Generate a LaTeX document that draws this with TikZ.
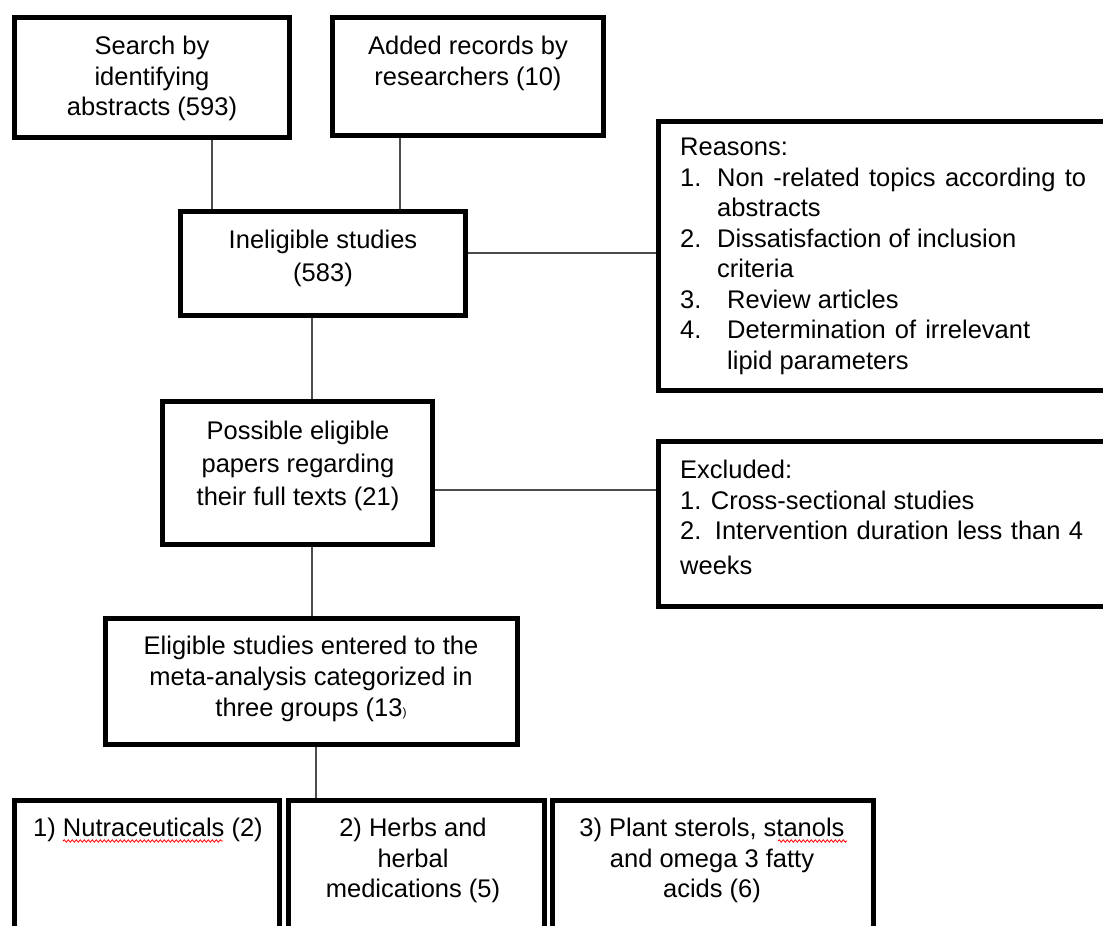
\documentclass[tikz,border=0pt]{standalone}
\usepackage{fontspec}
\setmainfont{Liberation Sans}
\usetikzlibrary{decorations.pathmorphing,calc}
\begin{document}
\begin{tikzpicture}[x=1pt,y=-1pt,
  box/.style={draw=black,line width=5pt,rectangle,inner sep=0pt,fill=white},
  conn/.style={draw=black!70,line width=1.6pt},
  txt/.style={inner sep=0pt,align=center,font=\fontsize{25.5}{30.5}\selectfont},
  ltxt/.style={inner sep=0pt,align=left,font=\fontsize{25.5}{30.5}\selectfont},
  wavy/.style={draw=red,line width=0.8pt,decorate,decoration={snake,amplitude=1.2pt,segment length=4pt}}]
\useasboundingbox (0,0) rectangle (1103,926);
\begin{scope}
\clip (0,0) rectangle (1103,926);
% boxes
\node[box,minimum width=275pt,minimum height=120pt] (s) at (152,77.5) {};
\node[box,minimum width=271pt,minimum height=118pt] (a) at (468,76.5) {};
\node[box,minimum width=449pt,minimum height=269pt] (rea) at (883,256) {};
\node[box,minimum width=285pt,minimum height=104pt] (ine) at (323,263.5) {};
\node[box,minimum width=270pt,minimum height=143pt] (pos) at (297.5,473) {};
\node[box,minimum width=449pt,minimum height=165pt] (exc) at (883,524) {};
\node[box,minimum width=412pt,minimum height=126pt] (eli) at (311.5,681.5) {};
\node[box,minimum width=265pt,minimum height=150pt] (ga) at (147,875) {};
\node[box,minimum width=256pt,minimum height=150pt] (gb) at (416.5,875) {};
\node[box,minimum width=321pt,minimum height=150pt] (gc) at (713,875) {};
% connectors
\draw[conn] ([xshift=60pt]s.south) -- ([xshift=60pt]s.south |- ine.north);
\draw[conn] ([xshift=-68pt]a.south) -- ([xshift=-68pt]a.south |- ine.north);
\draw[conn] ([yshift=10.5pt]ine.east) -- ([yshift=10.5pt]ine.east -| rea.west);
\draw[conn] ([xshift=-11pt]ine.south) -- ([xshift=-11pt]ine.south |- pos.north);
\draw[conn] ([yshift=-17pt]pos.east) -- ([yshift=-17pt]pos.east -| exc.west);
\draw[conn] ([xshift=14.5pt]pos.south) -- ([xshift=14.5pt]pos.south |- eli.north);
\draw[conn] ([xshift=4.5pt]eli.south) -- ([xshift=4.5pt]eli.south |- gb.north);
% texts
\node[txt,anchor=north] (ts) at (152,36) {Search by\\identifying\\abstracts (593)};
\node[txt,anchor=north] (ta) at (468,36) {Added records by\\researchers (10)};
\node[txt,anchor=north,font=\fontsize{25.5}{33}\selectfont] (ti) at (323,230) {Ineligible studies\\(583)};
\node[ltxt,anchor=north west] (tr) at (680,138) {Reasons:\\
\makebox[37pt][l]{1.}\makebox[369pt][s]{Non -related topics according to}\\
\makebox[37pt][l]{}abstracts\\
\makebox[37pt][l]{2.}Dissatisfaction of inclusion\\
\makebox[37pt][l]{}criteria\\
\makebox[47pt][l]{3.}Review articles\\
\makebox[47pt][l]{4.}\makebox[303pt][s]{Determination of irrelevant}\\
\makebox[47pt][l]{}lipid parameters};
\node[txt,anchor=north,font=\fontsize{25.5}{33}\selectfont] (tp) at (298,421) {Possible eligible\\papers regarding\\their full texts (21)};
\node[ltxt,anchor=north west] (te) at (680,460) {Excluded:\\
1. Cross-sectional studies\\
\makebox[403pt][s]{2. Intervention duration less than 4}\\[4pt]
weeks};
\node[txt,anchor=north,font=\fontsize{25.5}{31}\selectfont] (tl) at (311,636) {Eligible studies entered to the\\meta-analysis categorized in\\three groups (13{\fontsize{12}{12}\selectfont)}};
\node[txt,anchor=north] (tga) at (148,818) {1) Nutraceuticals (2)};
\node[txt,anchor=north] (tgb) at (413,818) {2) Herbs and\\herbal\\medications (5)};
\node[txt,anchor=north] (tgc) at (712,818) {3) Plant sterols, stanols\\and omega 3 fatty\\acids (6)};
% spell-check underlines
\draw[wavy] (63,841) -- (223,841);
\draw[wavy] (778,841) -- (847,841);
\end{scope}
\end{tikzpicture}
\end{document}
